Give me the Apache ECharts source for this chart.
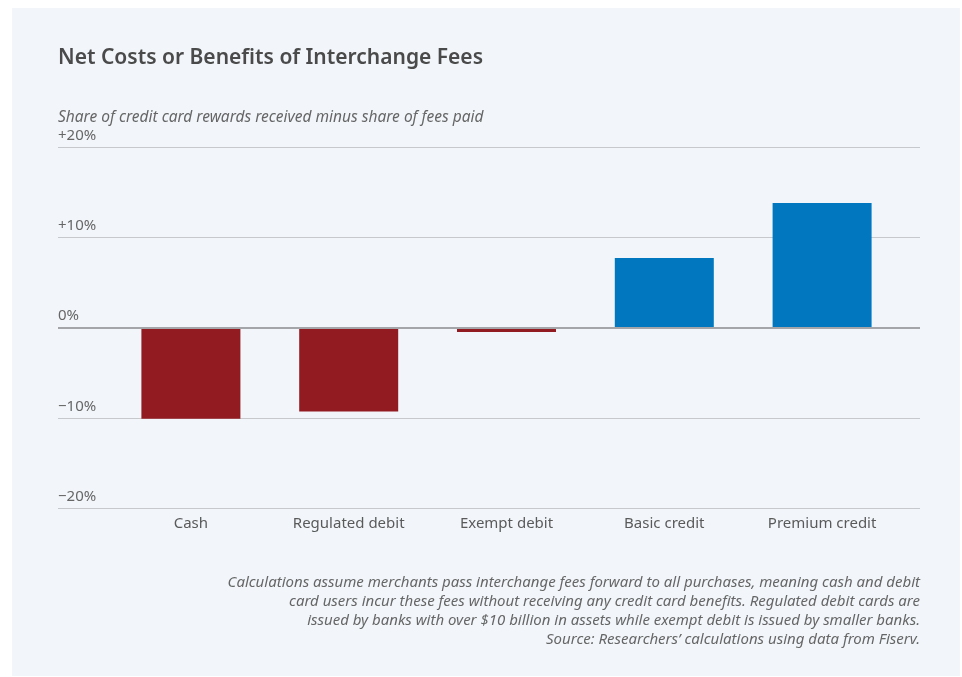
<!DOCTYPE html>
<html><head><meta charset="utf-8">
<script src="https://cdn.jsdelivr.net/npm/echarts@6/dist/echarts.min.js"></script>
<style>html,body{margin:0;padding:0;background:#fff}#c{width:962px;height:677px}</style>
</head><body><div id="c"></div>
<script>
const categories = ['Cash', 'Regulated debit', 'Exempt debit', 'Basic credit', 'Premium credit'];
const netValues = [-10.1, -9.3, -0.5, 7.7, 13.8];
const barColors = ['#921b22', '#921b22', '#921b22', '#0077bf', '#0077bf'];
const yTicks = [-20, -10, 0, 10, 20];
const yTickLabels = ['\u221220%', '\u221210%', '0%', '+10%', '+20%'];
const footLines = [
  'Calculations assume merchants pass interchange fees forward to all purchases, meaning cash and debit',
  'card users incur these fees without receiving any credit card benefits. Regulated debit cards are',
  'issued by banks with over $10 billion in assets while exempt debit is issued by smaller banks.',
  'Source: Researchers\u2019 calculations using data from Fiserv.'
];

const chart = echarts.init(document.getElementById('c'), null, {renderer: 'canvas'});
const TOP = 147, BOTTOM = 677 - 508;
const labelMap = {};
yTicks.forEach((v, i) => labelMap[v] = yTickLabels[i]);

chart.setOption({
  animation: false,
  backgroundColor: '#ffffff',
  graphic: [
    {type: 'rect', z: -10, shape: {x: 12, y: 8, width: 948, height: 668}, style: {fill: '#f2f6fa'}},
    {type: 'text', left: 58, top: 48, style: {text: 'Net Costs or Benefits of Interchange Fees', font: '600 21px "Noto Sans",sans-serif', fill: '#4a4a4a'}},
    {type: 'text', left: 58, top: 110, style: {text: 'Share of credit card rewards received minus share of fees paid', font: 'italic 15.5px "Noto Sans",sans-serif', fill: '#666666'}},
    {type: 'text', x: 920, y: 573, style: {text: footLines.join('\n'), font: 'italic 15px "Noto Sans",sans-serif', fill: '#666666', align: 'right', lineHeight: 19}}
  ],
  grid: [
    {left: 58, right: 42, top: TOP, bottom: BOTTOM},
    {left: 112, right: 61, top: TOP, bottom: BOTTOM}
  ],
  xAxis: [
    {type: 'value', gridIndex: 0, show: false, min: 0, max: 1},
    {type: 'category', gridIndex: 1, data: categories, axisLine: {show: false}, axisTick: {show: false},
     axisLabel: {color: '#5a5a5a', fontSize: 15, fontFamily: '"Noto Sans",sans-serif', margin: 8}}
  ],
  yAxis: [
    {type: 'value', gridIndex: 0, min: -20, max: 20, interval: 10,
     axisLine: {show: false}, axisTick: {show: false},
     splitLine: {show: true, lineStyle: {color: '#c6c8cb', width: 1}},
     axisLabel: {inside: true, margin: 0, verticalAlign: 'bottom', padding: [0, 0, 4, 0], color: '#666666', fontSize: 15, fontFamily: '"Noto Sans",sans-serif',
       formatter: v => labelMap[v]}},
    {type: 'value', gridIndex: 1, min: -20, max: 20, interval: 10, show: false, splitLine: {show: false}}
  ],
  series: [
    {type: 'line', xAxisIndex: 0, yAxisIndex: 0, data: [], silent: true,
     markLine: {symbol: 'none', silent: true, label: {show: false}, lineStyle: {color: '#a3a5a8', width: 2, type: 'solid'},
       data: [{yAxis: 0}]}},
    {type: 'bar', xAxisIndex: 1, yAxisIndex: 1, barWidth: 99, z: 1,
     data: netValues.map((v, i) => ({value: v, itemStyle: {color: barColors[i]}}))}
  ]
});
</script></body></html>
